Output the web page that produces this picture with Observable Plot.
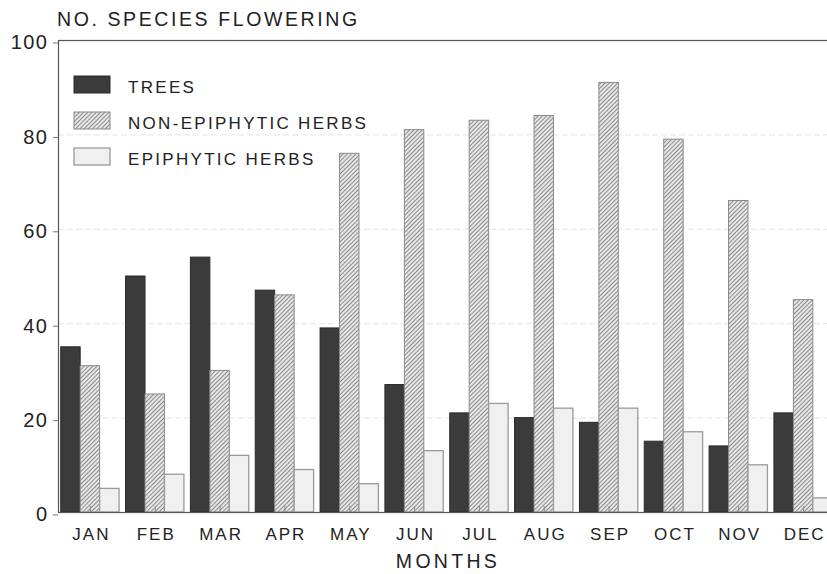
<!DOCTYPE html>
<html>
<head>
<meta charset="utf-8">
<script src="https://cdn.jsdelivr.net/npm/d3@7"></script>
<script src="https://cdn.jsdelivr.net/npm/@observablehq/plot@0.6"></script>
<style>
  html, body { margin: 0; padding: 0; background: white; overflow: hidden; }
  #chart svg { display: block; }
  g[aria-label="x-axis tick label"] text { letter-spacing: 2px; }
  g[aria-label="y-axis tick label"] text { letter-spacing: 1.5px; }
</style>
</head>
<body>
<div id="chart"></div>
<script>
const months = ["JAN","FEB","MAR","APR","MAY","JUN","JUL","AUG","SEP","OCT","NOV","DEC"];
const trees        = [35, 50, 54, 47, 39, 27, 21, 20, 19, 15, 14, 21];
const nonEpiphytic = [31, 25, 30, 46, 76, 81, 83, 84, 91, 79, 66, 45];
const epiphytic    = [ 5,  8, 12,  9,  6, 13, 23, 22, 22, 17, 10,  3];
const seriesNames  = ["TREES", "NON-EPIPHYTIC HERBS", "EPIPHYTIC HERBS"];
const yTicks       = [0, 20, 40, 60, 80, 100];

const W = 827, H = 574;
const mLeft = 58, mRight = -8, mTop = 40, mBottom = 62;
const pInner = 0.1, pOuter = 0.042;
const step = (W - mLeft - mRight) / (months.length - pInner + 2 * pOuter);
const bw = step * (1 - pInner);
const third = bw / 3;

const seriesValues = [trees, nonEpiphytic, epiphytic];
const rows = [];
seriesNames.forEach((s, si) => months.forEach((m, mi) => rows.push({month: m, series: s, value: seriesValues[si][mi]})));

const styles = [
  {fill: "#3b3b3b", stroke: "#2a2a2a", strokeWidth: 1, insetLeft: 0, insetRight: 2 * third},
  {fill: "url(#hatch)", stroke: "#8a8a8a", strokeWidth: 1, insetLeft: third, insetRight: third},
  {fill: "#f0f0f0", stroke: "#9a9a9a", strokeWidth: 1.3, insetLeft: 2 * third, insetRight: 0}
];

const barMarks = seriesNames.map((s, i) =>
  Plot.barY(rows.filter(r => r.series === s), {x: "month", y: "value", ...styles[i]})
);

const chart = Plot.plot({
  width: W, height: H,
  marginTop: mTop, marginBottom: mBottom, marginLeft: mLeft, marginRight: mRight,
  style: {fontFamily: "'Liberation Sans', Arial, sans-serif", color: "#222", background: "white"},
  x: {domain: months, paddingInner: pInner, paddingOuter: pOuter, round: false, axis: null},
  y: {domain: [0, 100], axis: null},
  marks: [
    Plot.gridY(yTicks.slice(1, -1), {stroke: "#999", strokeOpacity: 0.25, strokeDasharray: "6,3"}),
    ...barMarks,
    Plot.frame({stroke: "#555", strokeWidth: 1.2}),
    Plot.axisY(yTicks, {label: null, tickSize: 5, tickPadding: 5, fontSize: 20, dy: 2.5, stroke: "#777", fill: "#222"}),
    Plot.axisX({label: null, tickSize: 0, tickPadding: 15, fontSize: 17, fill: "#222", dx: 1}),
    Plot.ruleX(months, {x: d => d, insetTop: H - mTop - mBottom - 6, stroke: "#888"})
  ]
});

document.getElementById("chart").appendChild(chart);

const svg = d3.select(chart.tagName.toLowerCase() === "svg" ? chart : chart.querySelector("svg"));
const defs = svg.insert("defs", ":first-child");
const pat = defs.append("pattern")
  .attr("id", "hatch").attr("patternUnits", "userSpaceOnUse")
  .attr("width", 3).attr("height", 3).attr("patternTransform", "rotate(45)");
pat.append("rect").attr("width", 3).attr("height", 3).attr("fill", "#e6e6e6");
pat.append("line").attr("x1", 0.5).attr("y1", 0).attr("x2", 0.5).attr("y2", 3)
  .attr("stroke", "#8c8c8c").attr("stroke-width", 1);

const font = "'Liberation Sans', Arial, sans-serif";
// Title
svg.append("text").attr("x", 57).attr("y", 26).attr("text-anchor", "start")
  .attr("font-family", font).attr("font-size", 19.5).attr("letter-spacing", 2.6)
  .attr("fill", "#222").text("NO. SPECIES FLOWERING");
// X label
svg.append("text").attr("x", 448).attr("y", 568).attr("text-anchor", "middle")
  .attr("font-family", font).attr("font-size", 19.5).attr("letter-spacing", 3.3)
  .attr("fill", "#222").text("MONTHS");

// Legend
const lg = svg.append("g");
seriesNames.forEach((s, i) => {
  const y0 = 76 + i * 36;
  lg.append("rect").attr("x", 74).attr("y", y0).attr("width", 36).attr("height", 17)
    .attr("fill", styles[i].fill).attr("stroke", styles[i].stroke)
    .attr("stroke-width", styles[i].strokeWidth);
  lg.append("text").attr("x", 128).attr("y", y0 + 17).attr("text-anchor", "start")
    .attr("font-family", font).attr("font-size", 17).attr("letter-spacing", 2.3)
    .attr("fill", "#222").text(s);
});
</script>
</body>
</html>
